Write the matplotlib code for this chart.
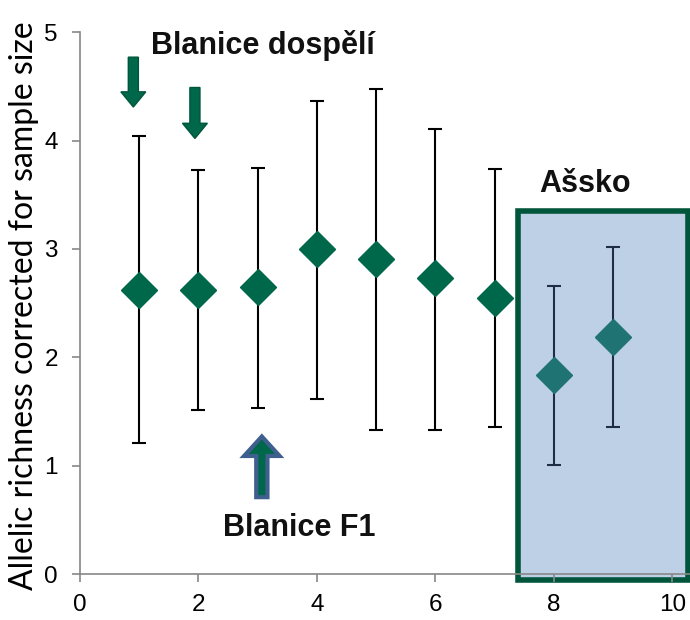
import matplotlib
matplotlib.use("Agg")
import matplotlib.pyplot as plt
from matplotlib.patches import Rectangle, FancyArrow

# Data
blanice_x = [1, 2, 3, 4, 5, 6, 7]
blanice_y = [2.62, 2.62, 2.65, 3.00, 2.91, 2.73, 2.55]
blanice_hi = [4.04, 3.73, 3.75, 4.37, 4.48, 4.11, 3.74]
blanice_lo = [1.21, 1.51, 1.53, 1.62, 1.33, 1.33, 1.36]

assko_x = [8, 9]
assko_y = [1.84, 2.19]
assko_hi = [2.66, 3.02]
assko_lo = [1.01, 1.36]

xticks = [0, 2, 4, 6, 8, 10]
yticks = [0, 1, 2, 3, 4, 5]

fig = plt.figure(figsize=(6.9, 6.2), dpi=100)
ax = fig.add_axes([0.116, 0.074, 0.884, 0.874])
ax.set_xlim(0, 10.3)
ax.set_ylim(0, 5)

# shaded box for Ašsko
ax.add_patch(Rectangle((7.4, -0.05), 2.87, 3.40, facecolor="#BED0E6",
                       edgecolor="#00553A", linewidth=4, clip_on=False, zorder=1))

green = "#00684A"
teal = "#1F7373"

ax.errorbar(blanice_x, blanice_y,
            yerr=[[m - l for m, l in zip(blanice_y, blanice_lo)],
                  [h - m for m, h in zip(blanice_y, blanice_hi)]],
            fmt="D", color=green, markersize=18, ecolor="black",
            elinewidth=1.5, capsize=5, capthick=1.5, zorder=3)
ax.errorbar(assko_x, assko_y,
            yerr=[[m - l for m, l in zip(assko_y, assko_lo)],
                  [h - m for m, h in zip(assko_y, assko_hi)]],
            fmt="D", color=teal, markersize=18, ecolor="#1F2D45",
            elinewidth=1.5, capsize=5, capthick=1.5, zorder=3)

# arrows
ax.add_patch(FancyArrow(0.9, 4.77, 0, -0.46, width=0.17, head_width=0.42,
                        head_length=0.14, length_includes_head=True,
                        facecolor=green, edgecolor="#00553A", linewidth=1, zorder=4))
ax.add_patch(FancyArrow(1.94, 4.49, 0, -0.47, width=0.17, head_width=0.42,
                        head_length=0.14, length_includes_head=True,
                        facecolor=green, edgecolor="#00553A", linewidth=1, zorder=4))
ax.add_patch(FancyArrow(3.07, 0.71, 0, 0.56, width=0.19, head_width=0.60,
                        head_length=0.18, length_includes_head=True,
                        facecolor=green, edgecolor="#3F5F8F", linewidth=3, zorder=4))

bold = dict(fontfamily="Liberation Sans", fontweight="bold", fontsize=22,
            ha="center", va="center", color="#111111")
ax.text(3.09, 4.88, "Blanice dospělí", **bold)
ax.text(3.71, 0.43, "Blanice F1", **bold)
ax.text(8.53, 3.6, "Ašsko", **bold)

ax.set_xticks(xticks)
ax.set_yticks(yticks)
ax.tick_params(labelsize=17.5, color="#888888", length=6, width=1.2,
               direction="out", pad=10)
ax.tick_params(axis="x", pad=8)
for lab in ax.get_xticklabels() + ax.get_yticklabels():
    lab.set_fontfamily("Liberation Sans")
for s in ["top", "right"]:
    ax.spines[s].set_visible(False)
for s in ["left", "bottom"]:
    ax.spines[s].set_color("#888888")
    ax.spines[s].set_linewidth(1.2)
ax.set_ylabel("Allelic richness corrected for sample size", fontsize=23,
              fontfamily="Lato")
ax.yaxis.set_label_coords(-0.068, 0.496)

fig.savefig("out.png", dpi=100)
